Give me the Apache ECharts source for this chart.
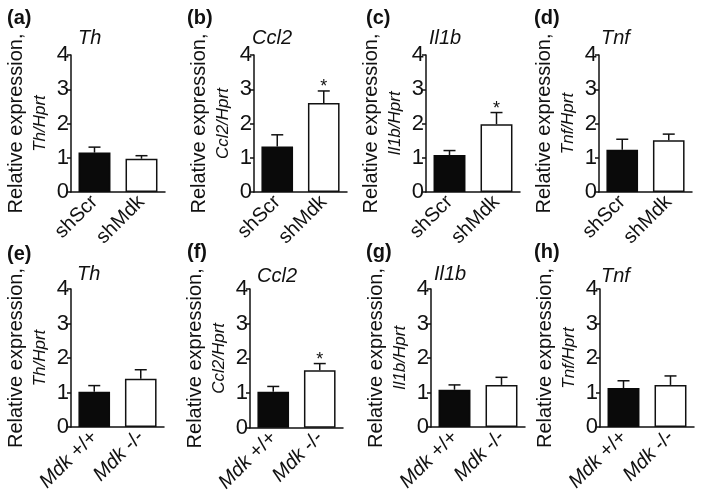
<!DOCTYPE html>
<html>
<head>
<meta charset="utf-8">
<script src="https://cdn.jsdelivr.net/npm/echarts@6/dist/echarts.min.js"></script>
<style>
  html, body { margin: 0; padding: 0; background: #fff; }
  #chart { width: 704px; height: 495px; }
</style>
</head>
<body>
<div id="chart"></div>
<script>
// 数据
var panelLetters = ['(a)', '(b)', '(c)', '(d)', '(e)', '(f)', '(g)', '(h)'];
var genes = ['Th', 'Ccl2', 'Il1b', 'Tnf'];
var groupsTop = ['shScr', 'shMdk'];
var groupsBottom = ['Mdk +/+', 'Mdk -/-'];
var yTicks = [0, 1, 2, 3, 4];

// 均值 / 误差 (上排 shRNA, 下排 敲除)
var meanTop = [[1.15, 0.97], [1.33, 2.60], [1.08, 1.98], [1.23, 1.51]];
var semTop = [[0.16, 0.09], [0.34, 0.35], [0.13, 0.34], [0.31, 0.18]];
var sigTop = [[0, 0], [0, 1], [0, 1], [0, 0]];
var meanBottom = [[1.02, 1.40], [1.04, 1.66], [1.08, 1.22], [1.13, 1.22]];
var semBottom = [[0.18, 0.26], [0.15, 0.19], [0.14, 0.22], [0.21, 0.26]];
var sigBottom = [[0, 0], [0, 1], [0, 0], [0, 0]];

// 每个小图的位置 [left, top, width, height]
var boxes = [
    [71, 55, 94, 137], [254, 55, 93, 137], [426, 55, 94, 137], [599, 55, 93, 137],
    [71, 289, 93, 138], [250, 289, 93, 139], [431, 289, 94, 138], [600, 289, 94, 138]
];
var titlePos = [[78, 28], [252, 28], [429, 28], [601, 28], [77, 264], [257, 266], [434, 264], [601, 266]];
var letterPos = [[7, 8], [187, 8], [366, 8], [534, 8], [7, 244], [187, 242], [366, 242], [534, 242]];

var FONT = '"Liberation Sans", Arial, Helvetica, sans-serif';

var myChart = echarts.init(document.getElementById('chart'));

var grids = [], xAxes = [], yAxes = [], series = [], titles = [];

for (let i = 0; i < 8; i++) {
    var row = i < 4 ? 0 : 1;
    var g = i % 4;
    var cats = row == 0 ? groupsTop : groupsBottom;
    var means = row == 0 ? meanTop[g] : meanBottom[g];
    var sems = row == 0 ? semTop[g] : semBottom[g];
    var sigs = row == 0 ? sigTop[g] : sigBottom[g];
    var b = boxes[i];

    grids.push({left: b[0], top: b[1], width: b[2], height: b[3], containLabel: false});

    xAxes.push({
        gridIndex: i,
        type: 'category',
        data: cats,
        axisLine: {lineStyle: {color: '#111', width: 1.5}},
        axisTick: {show: false},
        axisLabel: {
            rotate: 45,
            margin: 7,
            fontFamily: FONT,
            fontSize: 20,
            color: '#111',
            formatter: function (v) {
                if (v.indexOf('Mdk') == 0) return '{i|Mdk}' + v.substring(3);
                return v;
            },
            rich: {i: {fontStyle: 'italic', fontFamily: FONT, fontSize: 20, color: '#111'}}
        }
    });

    yAxes.push({
        gridIndex: i,
        type: 'value',
        min: yTicks[0],
        max: yTicks[yTicks.length - 1],
        interval: 1,
        splitLine: {show: false},
        axisLine: {show: true, lineStyle: {color: '#111', width: 1.5}},
        axisTick: {show: true, length: 4, lineStyle: {color: '#111', width: 1.5}},
        axisLabel: {fontFamily: FONT, fontSize: 22, color: '#111', margin: 2},
        name: '{a|Relative expression,}\n{b|' + genes[g] + '/Hprt}',
        nameLocation: 'middle',
        nameRotate: 90,
        nameGap: 20,
        nameTextStyle: {
            rich: {
                a: {fontFamily: FONT, fontSize: 20, color: '#111', lineHeight: 25},
                b: {fontFamily: FONT, fontSize: 17, fontStyle: 'italic', color: '#111', lineHeight: 22}
            }
        }
    });

    series.push({
        type: 'bar',
        xAxisIndex: i,
        yAxisIndex: i,
        barWidth: '68%',
        data: [
            {value: means[0], itemStyle: {color: '#0a0a0a', borderColor: '#0a0a0a', borderWidth: 1.5}},
            {value: means[1], itemStyle: {color: '#ffffff', borderColor: '#111', borderWidth: 1.5}}
        ],
        silent: true
    });

    var errData = [];
    for (let k = 0; k < 2; k++) {
        errData.push([k, means[k], sems[k], sigs[k]]);
    }
    series.push({
        type: 'custom',
        xAxisIndex: i,
        yAxisIndex: i,
        data: errData,
        z: 5,
        silent: true,
        renderItem: function (params, api) {
            var x = api.value(0);
            var base = api.coord([x, api.value(1)]);
            var top = api.coord([x, api.value(1) + api.value(2)]);
            var half = 6;
            var children = [
                {type: 'line', shape: {x1: base[0], y1: base[1], x2: top[0], y2: top[1]},
                    style: {stroke: '#111', lineWidth: 1.5}},
                {type: 'line', shape: {x1: top[0] - half, y1: top[1], x2: top[0] + half, y2: top[1]},
                    style: {stroke: '#111', lineWidth: 1.5}}
            ];
            if (api.value(3) == 1) {
                // 显著性星号
                children.push({
                    type: 'text',
                    style: {text: '*', x: top[0], y: top[1] - 4, align: 'center', verticalAlign: 'middle',
                        font: '18px ' + FONT, fill: '#111'}
                });
            }
            return {type: 'group', children: children};
        }
    });

    titles.push({
        text: genes[g],
        left: titlePos[i][0],
        top: titlePos[i][1],
        padding: 0,
        textStyle: {fontFamily: FONT, fontSize: 20, fontStyle: 'italic', fontWeight: 'normal', color: '#111'}
    });
    titles.push({
        text: panelLetters[i],
        left: letterPos[i][0],
        top: letterPos[i][1],
        padding: 0,
        textStyle: {fontFamily: FONT, fontSize: 20, fontWeight: 'bold', color: '#111'}
    });
}

var option = {
    backgroundColor: '#fff',
    animation: false,
    title: titles,
    grid: grids,
    xAxis: xAxes,
    yAxis: yAxes,
    series: series
};
myChart.setOption(option);
</script>
</body>
</html>
